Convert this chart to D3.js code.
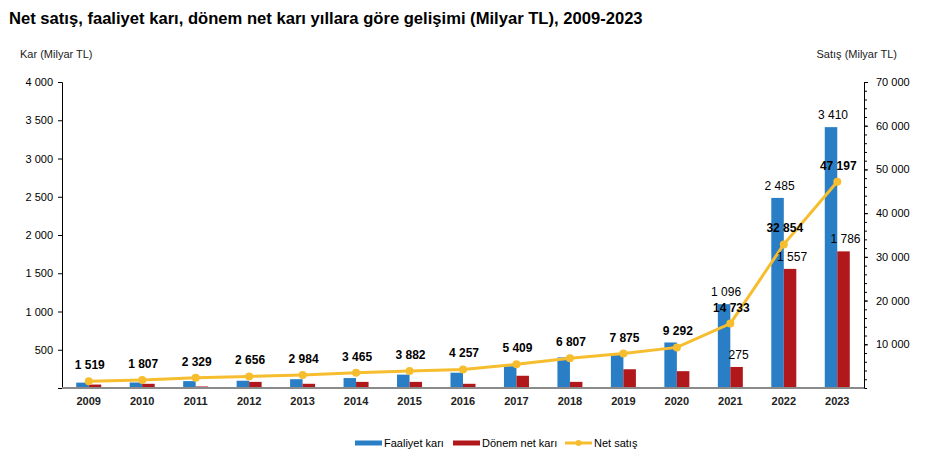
<!DOCTYPE html>
<html><head><meta charset="utf-8">
<script src="https://cdn.jsdelivr.net/npm/d3@7"></script>
<style>
body{margin:0;background:#fff;}
svg{font-family:"Liberation Sans",Arial,sans-serif;}
</style></head>
<body><svg id="c" width="932" height="460"></svg>
<script>
const years = ["2009","2010","2011","2012","2013","2014","2015","2016","2017","2018","2019","2020","2021","2022","2023"];
const faaliyetKari = [70,72,90,95,115,130,175,200,285,400,430,595,1096,2485,3410];
const donemNetKari = [45,55,20,80,55,80,80,55,160,80,245,220,275,1557,1786];
const netSatis = [1519,1807,2329,2656,2984,3465,3882,4257,5409,6807,7875,9292,14733,32854,47197];
const barLabelYears = ["2021","2022","2023"];
const leftTicks = [500,1000,1500,2000,2500,3000,3500,4000];
const rightTicks = [10000,20000,30000,40000,50000,60000,70000];
const title = "Net satış, faaliyet karı, dönem net karı yıllara göre gelişimi (Milyar TL), 2009-2023";
const legendLabels = ["Faaliyet karı","Dönem net karı","Net satış"];

const C_BLUE="#2a7ec6", C_RED="#b0181c", C_YEL="#f6bd2f";
const fmt = v => d3.format(",")(v).replace(/,/g," ");

const svg = d3.select("#c");
const L=62, R=864, T=82, B=388;
const x = d3.scaleBand().domain(years).range([L,R]).padding(0);
const yL = d3.scaleLinear().domain([0,4000]).range([B,T]);
const yR = d3.scaleLinear().domain([0,70000]).range([B,T]);
const bw = 12.5;

svg.append("text").attr("x",9).attr("y",24).attr("font-size",16.6).attr("font-weight","bold").attr("fill","#000").text(title);
svg.append("text").attr("x",20).attr("y",58).attr("font-size",11).attr("fill","#222").text("Kar (Milyar TL)");
svg.append("text").attr("x",897).attr("y",58).attr("font-size",11).attr("fill","#222").attr("text-anchor","end").text("Satış (Milyar TL)");

// bars
const g = svg.append("g");
g.selectAll(".fb").data(years).join("rect")
 .attr("x",d=>x(d)+x.bandwidth()/2-bw).attr("width",bw)
 .attr("y",(d,i)=>yL(faaliyetKari[i])).attr("height",(d,i)=>B-yL(faaliyetKari[i])).attr("fill",C_BLUE);
g.selectAll(".db").data(years).join("rect")
 .attr("x",d=>x(d)+x.bandwidth()/2).attr("width",bw)
 .attr("y",(d,i)=>yL(donemNetKari[i])).attr("height",(d,i)=>B-yL(donemNetKari[i])).attr("fill",C_RED);

// left axis
const axL = d3.axisLeft(yL).tickValues(leftTicks).tickFormat(fmt).tickSize(4).tickPadding(5);
const gL = svg.append("g").attr("transform",`translate(${L},0)`).call(axL);
gL.select(".domain").attr("stroke","#000");
gL.selectAll("line").attr("stroke","#000");
gL.selectAll("text").attr("font-size",11).attr("fill","#000").attr("font-family","Liberation Sans, Arial");

// right axis
const axRminor = d3.axisRight(yR).tickValues(d3.range(2000,70001,2000)).tickFormat("").tickSize(3);
svg.append("g").attr("transform",`translate(${R},0)`).call(axRminor).call(s=>{s.select(".domain").attr("stroke","#000");s.selectAll("line").attr("stroke","#000");});
const axR = d3.axisRight(yR).tickValues(rightTicks).tickFormat(fmt).tickSize(4).tickPadding(8);
const gR = svg.append("g").attr("transform",`translate(${R},0)`).call(axR);
gR.select(".domain").remove();
gR.selectAll("line").attr("stroke","#000");
gR.selectAll("text").attr("font-size",11).attr("fill","#000").attr("font-family","Liberation Sans, Arial");

// baseline
svg.append("line").attr("x1",L).attr("x2",R).attr("y1",B).attr("y2",B).attr("stroke","#8a8a8a").attr("stroke-width",2);

// x labels
svg.append("g").selectAll("text").data(years).join("text")
 .attr("x",d=>x(d)+x.bandwidth()/2).attr("y",405).attr("text-anchor","middle")
 .attr("font-size",11).attr("font-weight","bold").attr("fill","#222").text(d=>d);

// line
const line = d3.line().x((d,i)=>x(years[i])+x.bandwidth()/2).y(d=>yR(d));
svg.append("path").datum(netSatis).attr("d",line).attr("fill","none").attr("stroke",C_YEL).attr("stroke-width",3);
svg.append("g").selectAll("circle").data(netSatis).join("circle")
 .attr("cx",(d,i)=>x(years[i])+x.bandwidth()/2).attr("cy",d=>yR(d)).attr("r",4).attr("fill",C_YEL);

// bar labels
years.forEach((yr,i)=>{
  if(!barLabelYears.includes(yr)) return;
  const cx = x(yr)+x.bandwidth()/2;
  svg.append("text").attr("x",cx-bw/2+2).attr("y",yL(faaliyetKari[i])-8).attr("text-anchor","middle")
    .attr("font-size",12).attr("fill","#000").text(fmt(faaliyetKari[i]));
  svg.append("text").attr("x",cx+bw/2+2).attr("y",yL(donemNetKari[i])-8).attr("text-anchor","middle")
    .attr("font-size",12).attr("fill","#000").text(fmt(donemNetKari[i]));
});

// line labels
svg.append("g").selectAll("text").data(netSatis).join("text")
 .attr("x",(d,i)=>x(years[i])+x.bandwidth()/2+1).attr("y",d=>yR(d)-12).attr("text-anchor","middle")
 .attr("font-size",12).attr("font-weight","bold").attr("fill","#000").text(d=>fmt(d));

// legend
const lg = svg.append("g");
const items = [{x:355,c:C_BLUE,w:5,t:legendLabels[0],dot:false},{x:453,c:C_RED,w:5,t:legendLabels[1],dot:false},{x:565,c:C_YEL,w:3,t:legendLabels[2],dot:true}];
items.forEach(it=>{
  lg.append("line").attr("x1",it.x).attr("x2",it.x+27).attr("y1",443).attr("y2",443).attr("stroke",it.c).attr("stroke-width",it.w);
  if(it.dot) lg.append("circle").attr("cx",it.x+13.5).attr("cy",443).attr("r",3).attr("fill",it.c);
  lg.append("text").attr("x",it.x+29).attr("y",447).attr("font-size",11).attr("fill","#000").text(it.t);
});
</script></body></html>
